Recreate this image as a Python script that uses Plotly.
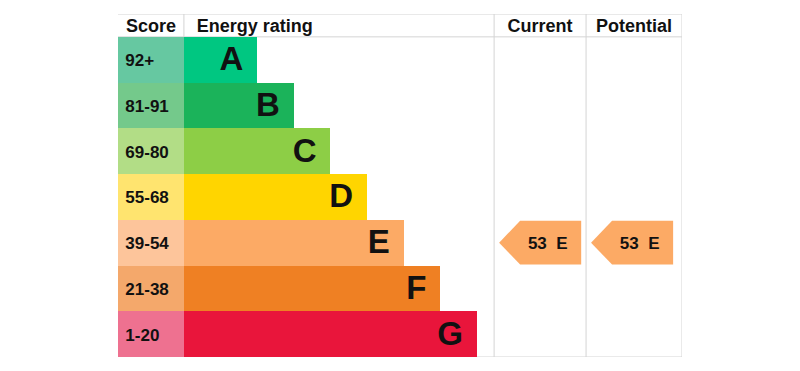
import plotly.graph_objects as go

# ---- data ----
bands = ["A", "B", "C", "D", "E", "F", "G"]
score_ranges = ["92+", "81-91", "69-80", "55-68", "39-54", "21-38", "1-20"]
band_lows = [92, 81, 69, 55, 39, 21, 1]
bar_lengths = [2, 3, 4, 5, 6, 7, 8]
bar_colors = ["#00c781", "#1bb35a", "#8dce46", "#ffd500", "#fcaa65", "#ef8023", "#e9153b"]
score_colors = ["#66c8a1", "#74c98b", "#b2dd86", "#ffe46f", "#fdc59b", "#f4a86b", "#ee7190"]
headers = ["Score", "Energy rating", "Current", "Potential"]
current_score = 53
potential_score = 53

# column layout in axis units
score_col = (-1.8, 0.0)
current_col = (8.47, 10.98)
potential_col = (10.98, 13.6)

FONT = "Liberation Sans, Arial, sans-serif"
TEXT_DY = 0.05  # small vertical nudge for text baselines


def band_index(score):
    for i, lo in enumerate(band_lows):
        if score >= lo:
            return i
    return len(bands) - 1


rows = list(range(len(bands)))
text_rows = [r + TEXT_DY for r in rows]

fig = go.Figure()

# score column cells
fig.add_trace(go.Bar(
    y=rows, x=[score_col[1] - score_col[0]] * len(rows), base=score_col[0],
    orientation="h", width=1, marker=dict(color=score_colors, line=dict(width=0)),
    hoverinfo="skip", showlegend=False))

# rating bars
fig.add_trace(go.Bar(
    y=rows, x=bar_lengths, base=0, orientation="h", width=1,
    marker=dict(color=bar_colors, line=dict(width=0)),
    hoverinfo="skip", showlegend=False))

# band letters
fig.add_trace(go.Scatter(
    x=[l - 0.38 for l in bar_lengths], y=text_rows, mode="text", text=bands,
    textposition="middle left",
    textfont=dict(family=FONT, size=33, color="#111111", weight="bold"),
    hoverinfo="skip", showlegend=False))

# score range labels
fig.add_trace(go.Scatter(
    x=[score_col[0] + 0.2] * len(rows), y=text_rows, mode="text", text=score_ranges,
    textposition="middle right",
    textfont=dict(family=FONT, size=17, color="#111111", weight="bold"),
    hoverinfo="skip", showlegend=False))

# arrows for current / potential
unit = 36.6  # approx px per axis unit (for arrow geometry offsets)
for score, col in [(current_score, current_col), (potential_score, potential_col)]:
    r = band_index(score)
    left = col[0]
    tip = left + 5 / unit
    shoulder = left + 26 / unit
    right = left + 87 / unit
    h = 0.48
    fig.add_trace(go.Scatter(
        x=[tip, shoulder, right, right, shoulder, tip],
        y=[r, r - h, r - h, r + h, r + h, r],
        mode="lines", fill="toself", fillcolor=bar_colors[r],
        line=dict(width=0, color=bar_colors[r]),
        hoverinfo="skip", showlegend=False))
    fig.add_trace(go.Scatter(
        x=[(shoulder + right) / 2 - 0.08], y=[r + TEXT_DY], mode="text",
        text=[f"{score}\u00a0\u00a0{bands[r]}"], textposition="middle center",
        textfont=dict(family=FONT, size=17, color="#111111", weight="bold"),
        hoverinfo="skip", showlegend=False))

# headers
hy = -0.75 + TEXT_DY
header_x = [(score_col[0] + score_col[1]) / 2, 0.35,
            (current_col[0] + current_col[1]) / 2, (potential_col[0] + potential_col[1]) / 2]
header_pos = ["middle center", "middle right", "middle center", "middle center"]
for name, hx, pos in zip(headers, header_x, header_pos):
    fig.add_trace(go.Scatter(
        x=[hx], y=[hy], mode="text", text=[name], textposition=pos,
        textfont=dict(family=FONT, size=18, color="#111111", weight="bold"),
        hoverinfo="skip", showlegend=False))

# table grid lines
grid = dict(color="#d4d4d4", width=1)
top, head_bottom, bottom = -1.0, -0.5, 6.5
xl, xr = score_col[0], potential_col[1]
for yv in [top, head_bottom, bottom]:
    fig.add_shape(type="line", x0=xl, x1=xr, y0=yv, y1=yv, line=grid, layer="below")
for xv in [current_col[0], potential_col[0], potential_col[1]]:
    fig.add_shape(type="line", x0=xv, x1=xv, y0=top, y1=bottom, line=grid, layer="below")
fig.add_shape(type="line", x0=0, x1=0, y0=top, y1=head_bottom, line=grid, layer="below")

fig.update_layout(
    width=800, height=371,
    margin=dict(l=110, r=126, t=6, b=22),
    plot_bgcolor="white", paper_bgcolor="white",
    barmode="overlay", bargap=0,
    xaxis=dict(range=[score_col[0], potential_col[1]], visible=False, fixedrange=True),
    yaxis=dict(range=[6.5, -1.0], visible=False, fixedrange=True),
)

fig.write_html("out.html")
